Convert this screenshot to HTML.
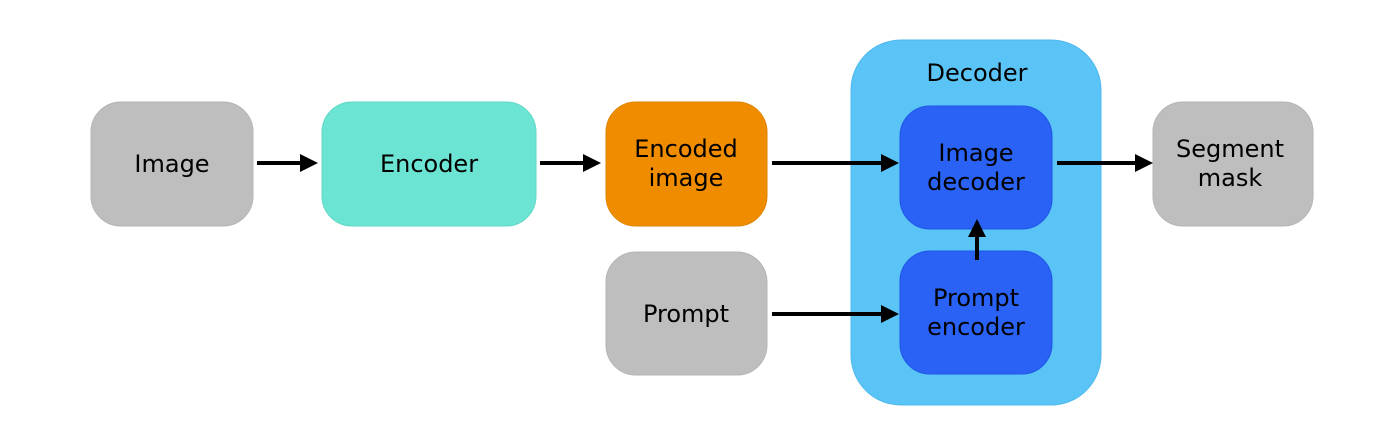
<!DOCTYPE html>
<html><head><meta charset="utf-8"><style>
html,body{margin:0;padding:0;background:#fff;}
svg{display:block;}
text{font-family:"DejaVu Sans","Liberation Sans",sans-serif;font-size:24px;fill:#000;text-anchor:middle;}
</style></head><body>
<svg width="1400" height="438" viewBox="0 0 1400 438" xmlns="http://www.w3.org/2000/svg">
<defs>
<marker id="ah" markerWidth="18" markerHeight="18" refX="0" refY="9" orient="auto" markerUnits="userSpaceOnUse">
<path d="M0,0 L18,9 L0,18 Z" fill="#000"/>
</marker>
</defs>
<!-- decoder container -->
<rect x="851" y="40" width="250" height="365" rx="50" fill="#5ac4f6" stroke="#4fb8ee" stroke-width="1"/>
<text x="977" y="81">Decoder</text>
<!-- boxes -->
<rect x="91" y="102" width="162" height="124" rx="30" fill="#bebebe" stroke="#b4b4b4"/>
<text x="172" y="172">Image</text>
<rect x="322" y="102" width="214" height="124" rx="30" fill="#6ce4d3" stroke="#5fd8c6"/>
<text x="429" y="172">Encoder</text>
<rect x="606" y="102" width="161" height="124" rx="30" fill="#f08c00" stroke="#e08200"/>
<text x="686" y="157">Encoded</text>
<text x="686" y="186">image</text>
<rect x="900" y="106" width="152" height="123" rx="30" fill="#2962f5" stroke="#1f55e6"/>
<text x="976" y="161">Image</text>
<text x="976" y="190">decoder</text>
<rect x="1153" y="102" width="160" height="124" rx="30" fill="#bebebe" stroke="#b4b4b4"/>
<text x="1230" y="157">Segment</text>
<text x="1230" y="186">mask</text>
<rect x="606" y="252" width="161" height="123" rx="30" fill="#bebebe" stroke="#b4b4b4"/>
<text x="686" y="322">Prompt</text>
<rect x="900" y="251" width="152" height="123" rx="30" fill="#2962f5" stroke="#1f55e6"/>
<text x="976" y="306">Prompt</text>
<text x="976" y="335">encoder</text>
<!-- arrows -->
<g stroke="#000" stroke-width="4" marker-end="url(#ah)">
<line x1="257" y1="163" x2="300" y2="163"/>
<line x1="540" y1="163" x2="583" y2="163"/>
<line x1="772" y1="163" x2="881" y2="163"/>
<line x1="1057" y1="163" x2="1135" y2="163"/>
<line x1="772" y1="314" x2="881" y2="314"/>
<line x1="977" y1="260" x2="977" y2="237"/>
</g>
</svg>
</body></html>
